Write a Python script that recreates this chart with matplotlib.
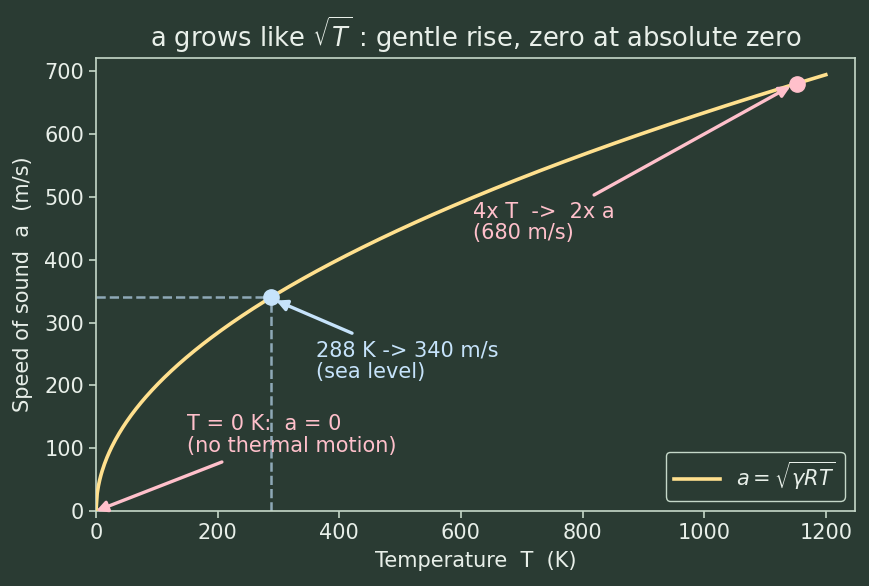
import numpy as np
import matplotlib
matplotlib.use("Agg")
import matplotlib.pyplot as plt

# Data
gamma = 1.4
R_air = 287.0
T_max = 1200
T_sea = 288
a_sea = 340
T_hot = 1152
a_hot = 680

T = np.linspace(0, T_max, 600)
a = np.sqrt(gamma * R_air * T)

BG = "#2a3b33"
FG = "#e8efe9"
SPINE = "#c5d8c9"
CURVE = "#ffe08e"
PINK = "#ffc0cb"
BLUE = "#c6e3fb"
DASH = "#8ea9b7"

FS = 15
plt.rcParams["font.family"] = ["DejaVu Sans"]
fig = plt.figure(figsize=(8.69, 5.86), dpi=100, facecolor=BG)
ax = fig.add_axes([96/869, 1-511/586, (855-96)/869, (511-58)/586])
ax.set_facecolor(BG)

ax.plot(T, a, color=CURVE, lw=2.6, label=r"$a = \sqrt{\gamma R T}$", zorder=3)

ax.plot([0, T_sea], [a_sea, a_sea], ls="--", color=DASH, lw=1.8, zorder=2)
ax.plot([T_sea, T_sea], [0, a_sea], ls="--", color=DASH, lw=1.8, zorder=2)

ax.plot([T_sea], [a_sea], "o", color=BLUE, ms=11, zorder=4)
ax.plot([T_hot], [a_hot], "o", color=PINK, ms=11, zorder=4)

akw = dict(lw=2.4, shrinkA=0, shrinkB=0, mutation_scale=16)
ax.annotate("", xy=(0, 0), xytext=(207, 78),
            arrowprops=dict(arrowstyle="-|>", color=PINK, **akw), zorder=5)
ax.text(150, 121, "T = 0 K:  a = 0\n(no thermal motion)", color=PINK, fontsize=FS,
        va="center", ha="left", zorder=5, linespacing=1.1)

ax.annotate("", xy=(T_sea + 8, a_sea - 5), xytext=(421, 283),
            arrowprops=dict(arrowstyle="-|>", color=BLUE, **akw), zorder=5)
ax.text(362, 239, "288 K -> 340 m/s\n(sea level)", color=BLUE, fontsize=FS,
        va="center", ha="left", zorder=5, linespacing=1.1)

ax.annotate("", xy=(T_hot - 10, a_hot - 4), xytext=(819, 503),
            arrowprops=dict(arrowstyle="-|>", color=PINK, **akw), zorder=5)
ax.text(620, 459, "4x T  ->  2x a\n(680 m/s)", color=PINK, fontsize=FS,
        va="center", ha="left", zorder=5, linespacing=1.1)

ax.set_xlim(0, 1248)
ax.set_ylim(0, 721)
ax.set_xticks([0, 200, 400, 600, 800, 1000, 1200])
ax.set_yticks([0, 100, 200, 300, 400, 500, 600, 700])

for s in ax.spines.values():
    s.set_color(SPINE)
    s.set_linewidth(1.2)
ax.tick_params(colors=SPINE, labelcolor=FG, labelsize=FS, length=5, width=1.2)
ax.set_xlabel("Temperature  T  (K)", color=FG, fontsize=FS, labelpad=6)
ax.set_ylabel("Speed of sound  a  (m/s)", color=FG, fontsize=FS, labelpad=8)
ax.set_title(r"a grows like $\sqrt{T}$ : gentle rise, zero at absolute zero", color=FG,
             fontsize=18.5, pad=8)

leg = ax.legend(loc="lower right", fontsize=FS, facecolor=BG, edgecolor=SPINE,
                framealpha=1, handlelength=2.2, borderaxespad=0.5)
for t in leg.get_texts():
    t.set_color(FG)

fig.savefig("out.png", dpi=100, facecolor=BG)
